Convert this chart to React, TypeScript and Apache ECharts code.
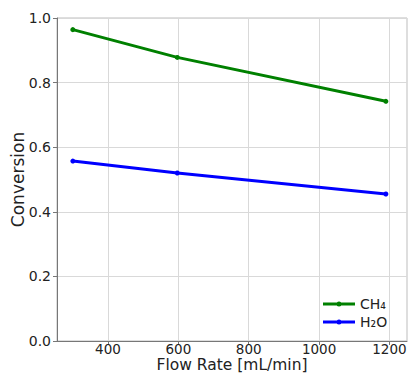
import React, { useEffect, useRef } from "react";
import * as echarts from "echarts";

const flowRates = [300, 597, 1190];
const ch4Conversion = [0.964, 0.878, 0.742];
const h2oConversion = [0.557, 0.52, 0.455];
const seriesNames = ["CH₄", "H₂O"];
const xTickStep = 200;
const xTicks = [400, 600, 800, 1000, 1200];

const legendIcon =
  "path://M0,2 L32,2 L32,5 L0,5 Z M13.5,3.5 A2.5,2.5 0 1 1 18.5,3.5 A2.5,2.5 0 1 1 13.5,3.5 Z";

export default function App() {
  const ref = useRef<HTMLDivElement>(null);
  useEffect(() => {
    if (!ref.current) return;
    const chart = echarts.init(ref.current, undefined, { renderer: "svg" });
    const font = "DejaVu Sans";
    chart.setOption({
      animation: false,
      backgroundColor: "#ffffff",
      textStyle: { fontFamily: font },
      grid: {
        left: 57,
        right: 3,
        top: 18,
        bottom: 33,
        containLabel: false,
        outerBoundsMode: "none",
        show: true,
        borderColor: "#bdbdbd",
        borderWidth: 1,
      },
      legend: {
        orient: "vertical",
        left: 318,
        top: 292,
        itemWidth: 32,
        itemHeight: 6,
        itemGap: 4,
        padding: 5,
        icon: legendIcon,
        textStyle: { fontFamily: font, fontSize: 14, color: "#222" },
        data: seriesNames,
      },
      xAxis: {
        type: "value",
        min: 255,
        max: 1250,
        splitNumber: 5,
        name: "Flow Rate [mL/min]",
        nameLocation: "middle",
        nameGap: 16,
        nameMoveOverlap: false,
        nameTextStyle: {
          fontFamily: font,
          fontSize: 15.5,
          lineHeight: 15,
          color: "#222",
        },
        axisLine: { show: true, lineStyle: { color: "#777", width: 1 } },
        axisTick: {
          show: true,
          length: 4,
          lineStyle: { color: "#777" },
          customValues: xTicks,
        },
        axisLabel: {
          fontFamily: font,
          fontSize: 13.5,
          lineHeight: 13,
          color: "#222",
          margin: 1,
          interval: 0,
          hideOverlap: false,
          customValues: xTicks,
          formatter: (v: number) => (v % xTickStep === 0 ? String(v) : ""),
        },
        splitLine: { show: true, lineStyle: { color: "#d9d9d9", width: 1 } },
      },
      yAxis: {
        type: "value",
        min: 0,
        max: 1,
        interval: 0.2,
        name: "Conversion",
        nameLocation: "middle",
        nameGap: 31,
        nameMoveOverlap: false,
        nameTextStyle: { fontFamily: font, fontSize: 17, color: "#222" },
        axisLine: { show: true, lineStyle: { color: "#777", width: 1 } },
        axisTick: { show: true, length: 4, lineStyle: { color: "#777" } },
        axisLabel: {
          fontFamily: font,
          fontSize: 14,
          color: "#222",
          margin: 6,
          formatter: (v: number) => v.toFixed(1),
        },
        splitLine: { show: true, lineStyle: { color: "#d9d9d9", width: 1 } },
      },
      series: [
        {
          name: seriesNames[0],
          type: "line",
          data: flowRates.map((x, i) => [x, ch4Conversion[i]]),
          symbol: "circle",
          symbolSize: 5,
          lineStyle: { color: "#008000", width: 3 },
          itemStyle: { color: "#008000" },
        },
        {
          name: seriesNames[1],
          type: "line",
          data: flowRates.map((x, i) => [x, h2oConversion[i]]),
          symbol: "circle",
          symbolSize: 5,
          lineStyle: { color: "#0000ff", width: 3 },
          itemStyle: { color: "#0000ff" },
        },
      ],
    });
    return () => chart.dispose();
  }, []);
  return (
    <div
      ref={ref}
      style={{ position: "fixed", left: 0, top: 0, width: 410, height: 374 }}
    />
  );
}
